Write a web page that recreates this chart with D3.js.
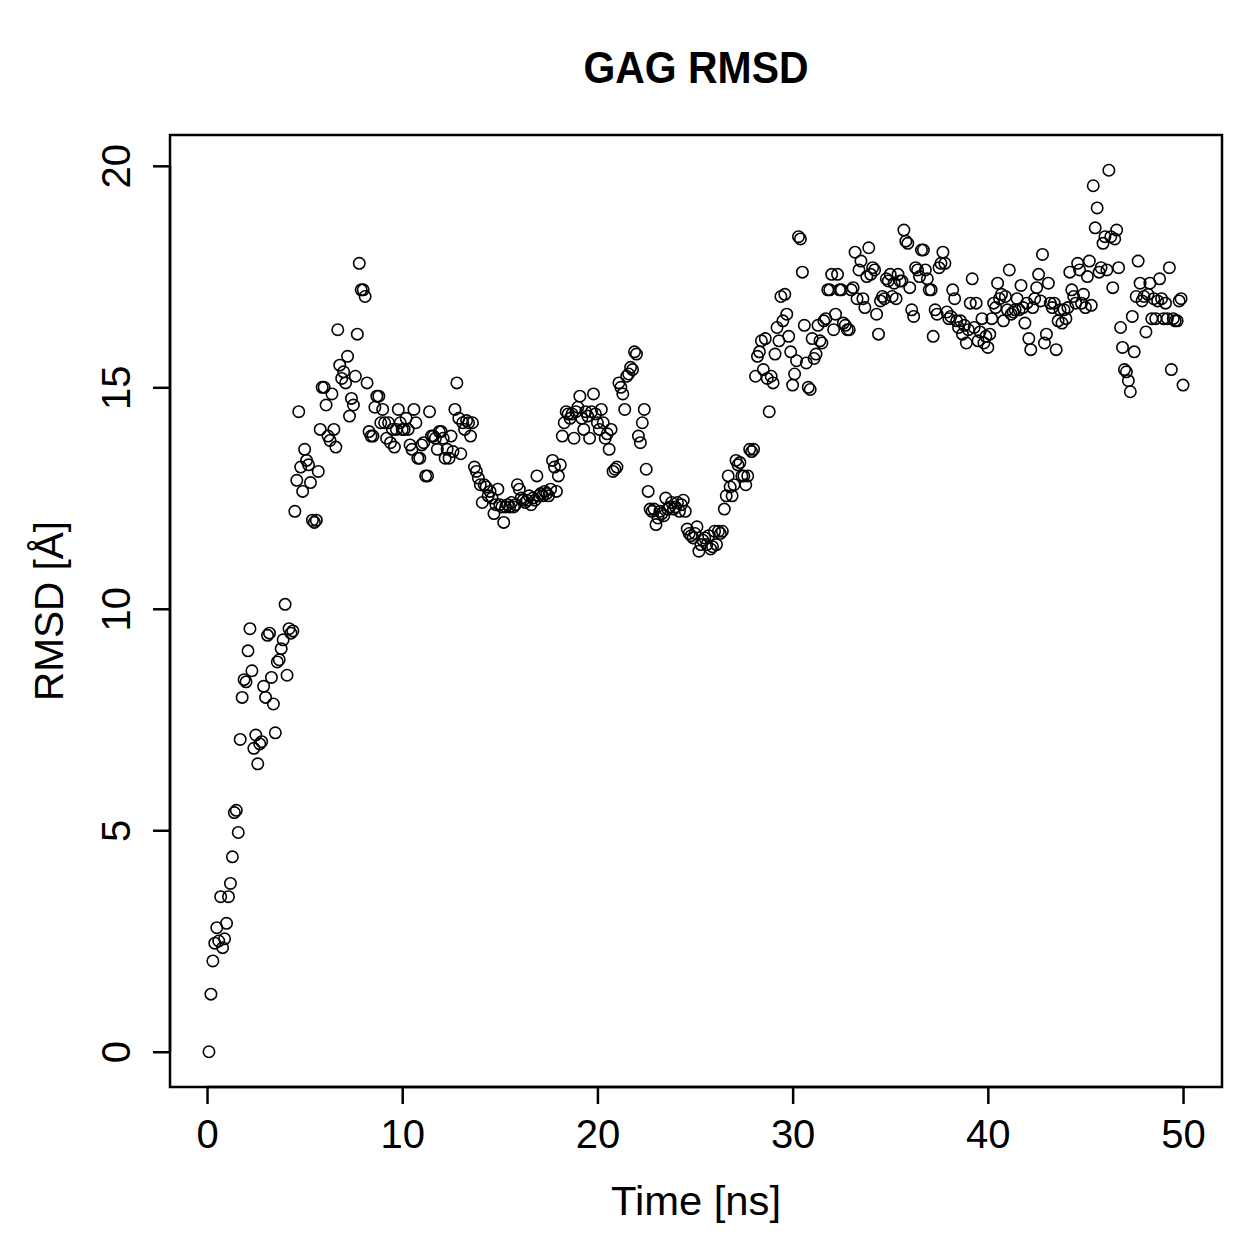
<!DOCTYPE html>
<html>
<head>
<meta charset="utf-8">
<script src="https://cdn.jsdelivr.net/npm/d3@7"></script>
<style>
  body { margin: 0; background: #fff; }
  text { font-family: "Liberation Sans", Arial, sans-serif; fill: #000; }
</style>
</head>
<body>
<div id="chart"></div>
<script>
// RMSD values (Å), one frame every 0.1 ns starting at 0.1 ns
const rmsd = [
  // 0-5 ns
  0.0, 1.3, 2.05, 2.45, 2.8, 2.5, 3.5, 2.35, 2.55, 2.9,
  3.5, 3.8, 4.4, 5.4, 5.45, 4.95, 7.05, 8.0, 8.4, 8.35,
  9.05, 9.55, 8.6, 6.85, 7.15, 6.5, 6.95, 7.0, 8.25, 8.0,
  9.4, 9.45, 8.45, 7.85, 7.2, 8.8, 8.85, 9.1, 9.3, 10.1,
  8.5, 9.55, 9.45, 9.5, 12.2, 12.9, 14.45, 13.2, 12.65, 13.6,
  // 5-10 ns
  13.35, 13.25, 12.85, 12.0, 11.95, 12.0, 13.1, 14.05, 15.0, 15.0,
  14.6, 13.9, 13.8, 14.85, 14.05, 13.65, 16.3, 15.5, 15.2, 15.35,
  15.1, 15.7, 14.35, 14.75, 14.6, 15.25, 16.2, 17.8, 17.2, 17.2,
  17.05, 15.1, 14.0, 13.9, 13.9, 14.55, 14.8, 14.8, 14.2, 14.5,
  14.2, 13.85, 14.2, 13.75, 14.05, 13.65, 14.05, 14.5, 14.2, 14.05,
  // 10-15 ns
  14.05, 14.3, 14.05, 13.7, 13.6, 14.5, 14.2, 13.4, 13.4, 13.7,
  13.75, 13.0, 13.0, 14.45, 13.9, 13.9, 13.85, 13.6, 14.0, 14.0,
  13.85, 13.4, 13.6, 13.4, 13.9, 13.55, 14.5, 15.1, 14.3, 13.5,
  14.2, 14.05, 14.25, 14.2, 13.9, 14.2, 13.2, 13.1, 12.95, 12.8,
  12.4, 12.8, 12.75, 12.55, 12.65, 12.5, 12.15, 12.35, 12.7, 12.35,
  // 15-20 ns
  12.3, 11.95, 12.3, 12.35, 12.3, 12.4, 12.3, 12.35, 12.8, 12.7,
  12.5, 12.45, 12.4, 12.45, 12.55, 12.35, 12.5, 12.45, 13.0, 12.55,
  12.6, 12.55, 12.65, 12.6, 12.55, 12.7, 13.35, 13.2, 12.65, 13.0,
  13.25, 13.9, 14.2, 14.45, 14.4, 14.3, 14.4, 13.85, 14.45, 14.55,
  14.8, 14.3, 14.05, 14.45, 14.35, 13.85, 14.45, 14.85, 14.4, 14.2,
  // 20-25 ns
  14.05, 14.5, 14.2, 13.85, 13.95, 13.6, 14.05, 13.1, 13.15, 13.2,
  15.1, 15.0, 14.85, 14.5, 15.25, 15.3, 15.45, 15.4, 15.8, 15.75,
  13.9, 13.75, 14.2, 14.5, 13.15, 12.65, 12.25, 12.2, 12.25, 11.9,
  12.05, 12.2, 12.15, 12.1, 12.5, 12.25, 12.3, 12.4, 12.25, 12.3,
  12.4, 12.2, 12.35, 12.45, 12.2, 11.8, 11.7, 11.65, 11.6, 11.7,
  // 25-30 ns
  11.85, 11.3, 11.45, 11.55, 11.6, 11.45, 11.65, 11.35, 11.4, 11.75,
  11.45, 11.75, 11.7, 11.75, 12.25, 12.55, 13.0, 12.75, 12.55, 12.8,
  13.35, 13.25, 13.3, 13.0, 13.0, 12.8, 13.0, 13.6, 13.55, 13.6,
  15.25, 15.7, 15.8, 16.05, 15.4, 16.1, 15.2, 14.45, 15.25, 15.1,
  15.75, 16.35, 16.05, 17.05, 16.5, 17.1, 16.65, 16.15, 15.8, 15.05,
  // 30-35 ns
  15.3, 15.6, 18.4, 18.35, 17.6, 16.4, 15.55, 15.0, 14.95, 16.1,
  15.65, 15.75, 16.4, 16.05, 16.0, 16.5, 16.55, 17.2, 17.2, 17.55,
  16.3, 16.65, 17.55, 17.2, 17.2, 16.45, 16.4, 16.3, 16.3, 17.2,
  17.25, 18.05, 17.0, 17.65, 17.85, 17.0, 16.8, 17.5, 18.15, 17.55,
  17.7, 17.65, 16.65, 16.2, 16.95, 17.05, 17.0, 17.45, 17.4, 17.55,
  // 35-40 ns
  17.05, 17.35, 17.0, 17.55, 17.4, 17.4, 18.55, 18.3, 18.25, 17.25,
  16.75, 16.6, 17.7, 17.65, 17.5, 18.1, 18.1, 17.65, 17.45, 17.2,
  17.2, 16.15, 16.75, 16.65, 17.7, 17.8, 18.05, 17.8, 16.7, 16.55,
  16.6, 17.2, 17.0, 16.5, 16.35, 16.5, 16.2, 16.4, 16.0, 16.3,
  16.9, 17.45, 16.35, 16.9, 16.05, 16.25, 16.55, 16.0, 16.15, 15.9,
  // 40-45 ns
  16.2, 16.55, 16.9, 16.8, 17.35, 17.0, 17.1, 16.5, 17.05, 16.75,
  17.65, 16.65, 16.7, 16.75, 17.0, 16.75, 17.3, 16.8, 16.45, 16.9,
  16.1, 15.85, 16.8, 17.0, 17.25, 17.55, 16.95, 18.0, 16.0, 16.2,
  17.35, 16.9, 16.8, 16.9, 15.85, 16.5, 16.75, 16.45, 16.75, 16.55,
  16.8, 17.6, 17.2, 17.05, 16.9, 17.8, 17.65, 16.9, 17.1, 16.8,
  // 45-50 ns
  17.5, 17.85, 16.85, 19.55, 18.6, 19.05, 17.6, 17.7, 18.25, 18.4,
  17.65, 19.9, 18.4, 17.25, 18.35, 18.55, 17.7, 16.35, 15.9, 15.4,
  15.35, 15.15, 14.9, 16.6, 15.8, 17.05, 17.85, 17.35, 16.95, 17.05,
  16.25, 17.1, 17.35, 16.55, 17.0, 16.55, 16.95, 17.45, 17.0, 16.55,
  16.9, 16.55, 17.7, 15.4, 16.55, 16.5, 16.5, 16.95, 17.0, 15.05
];
const timeStep = 0.1; // ns per frame
const xTicks = [0, 10, 20, 30, 40, 50];
const yTicks = [0, 5, 10, 15, 20];

const W = 1259, H = 1259;
const box = { left: 170, right: 1222, top: 135, bottom: 1087 };

const data = rmsd.map((v, i) => ({ t: (i + 1) * timeStep, v: v }));

const svg = d3.select("#chart").append("svg")
    .attr("width", W)
    .attr("height", H);

// R-style 4% padding around data range
const x = d3.scaleLinear().domain([-1.896, 51.996]).range([box.left, box.right]);
const y = d3.scaleLinear().domain([-0.796, 20.696]).range([box.bottom, box.top]);

// Points
svg.append("g")
    .selectAll("circle")
    .data(data)
    .enter()
    .append("circle")
    .attr("cx", d => x(d.t))
    .attr("cy", d => y(d.v))
    .attr("r", 5.7)
    .attr("fill", "none")
    .attr("stroke", "#000")
    .attr("stroke-width", 1.6);

// Box
svg.append("rect")
    .attr("x", box.left)
    .attr("y", box.top)
    .attr("width", box.right - box.left)
    .attr("height", box.bottom - box.top)
    .attr("fill", "none")
    .attr("stroke", "#000")
    .attr("stroke-width", 2.5);

// X axis
const xAxis = svg.append("g")
    .attr("transform", `translate(0,${box.bottom})`)
    .call(d3.axisBottom(x).tickValues(xTicks).tickSize(17).tickPadding(0).tickFormat(d3.format("d")));
xAxis.select(".domain")
    .attr("d", `M${x(xTicks[0])},0H${x(xTicks[xTicks.length - 1])}`)
    .attr("stroke-width", 2.5);
xAxis.selectAll(".tick line").attr("stroke-width", 2.5);
xAxis.selectAll(".tick text")
    .attr("y", 61)
    .attr("dy", null)
    .style("font-size", "40px")
    .style("font-family", "'Liberation Sans', Arial, sans-serif");

// Y axis
const yAxis = svg.append("g")
    .attr("transform", `translate(${box.left},0)`)
    .call(d3.axisLeft(y).tickValues(yTicks).tickSize(17).tickFormat(d3.format("d")));
yAxis.select(".domain")
    .attr("d", `M0,${y(yTicks[0])}V${y(yTicks[yTicks.length - 1])}`)
    .attr("stroke-width", 2.5);
yAxis.selectAll(".tick line").attr("stroke-width", 2.5);
yAxis.selectAll(".tick text")
    .attr("x", null)
    .attr("dy", null)
    .attr("text-anchor", "middle")
    .attr("transform", "translate(-40,0) rotate(-90)")
    .style("font-size", "40px")
    .style("font-family", "'Liberation Sans', Arial, sans-serif");

// Title and axis labels
svg.append("text")
    .attr("x", (box.left + box.right) / 2)
    .attr("y", 83)
    .attr("text-anchor", "middle")
    .attr("textLength", 225)
    .attr("lengthAdjust", "spacingAndGlyphs")
    .style("font-size", "44px")
    .style("font-weight", "bold")
    .text("GAG RMSD");

svg.append("text")
    .attr("x", (box.left + box.right) / 2)
    .attr("y", 1215)
    .attr("text-anchor", "middle")
    .attr("textLength", 170)
    .attr("lengthAdjust", "spacingAndGlyphs")
    .style("font-size", "40px")
    .text("Time [ns]");

svg.append("text")
    .attr("transform", `translate(63,${(box.top + box.bottom) / 2}) rotate(-90)`)
    .attr("text-anchor", "middle")
    .attr("textLength", 180)
    .attr("lengthAdjust", "spacingAndGlyphs")
    .style("font-size", "40px")
    .text("RMSD [Å]");
</script>
</body>
</html>
